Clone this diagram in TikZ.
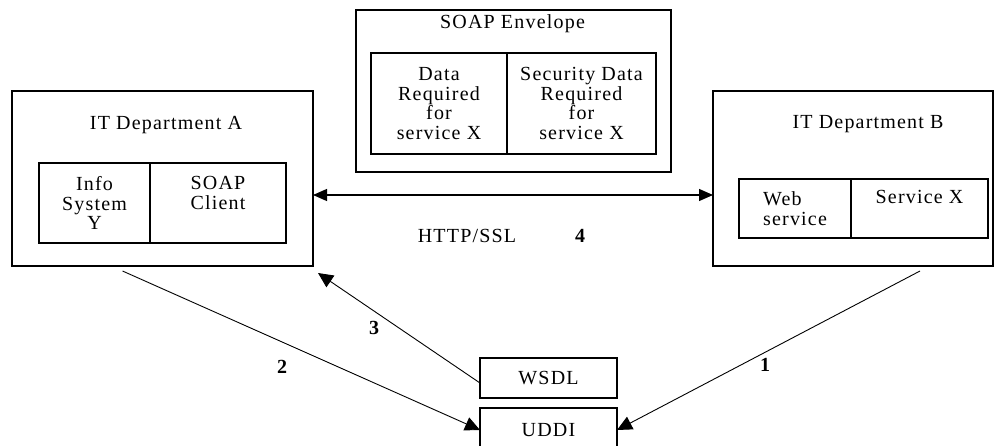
\documentclass[tikz,border=0pt]{standalone}
\usepackage{fontspec}
\setmainfont{Liberation Serif}[LetterSpace=6.0]
\usetikzlibrary{arrows.meta,positioning}

\begin{document}
\begin{tikzpicture}[
  x=1pt,y=-1pt,
  font=\fontsize{20}{19.5}\selectfont,
  every node/.style={align=center,inner sep=0pt,outer sep=0pt},
  dept/.style={draw,line width=1.4pt,minimum width=#1,minimum height=175pt},
  env/.style={draw,line width=1.4pt,minimum width=315pt,minimum height=162pt},
  cell/.style={draw,line width=1.3pt,minimum width=#1},
  reg/.style={draw,line width=1.3pt,minimum width=137pt,minimum height=40pt},
  num/.style={font=\fontsize{20}{20}\selectfont\bfseries},
  arr/.style={-{Triangle[length=15pt,width=14pt]},line width=0.9pt},
  arrs/.style={{Triangle[length=14pt,width=12pt]}-{Triangle[length=14pt,width=12pt]},line width=1.2pt}
]
\useasboundingbox (0,0) rectangle (1003,446);
\fill[white] (0,0) rectangle (1003,446);
\clip (0,0) rectangle (1003,446);

% IT Department A
\node[dept=301] (deptA) at (162.5,178.5) {};
\node (titleA) at (166,125) {IT Department A};
\node[cell=111,minimum height=80pt] (info) at (94.5,203) {Info\\System\\Y};
\node[cell=136,minimum height=80pt,right=0pt of info] (client) {};
\node (clientTxt) at (218,193) {SOAP\\Client};

% SOAP envelope
\node[env] (env) at (513.5,91) {};
\node (envTitle) at (512.5,24) {SOAP Envelope};
\node[cell=136,minimum height=101pt] (data) at (439,103.5) {Data\\Required\\for\\service X};
\node[cell=149,minimum height=101pt,right=0pt of data] (secdata) {Security Data\\Required\\for\\service X};

% IT Department B
\node[dept=280] (deptB) at (853,178.5) {};
\node (titleB) at (868,124) {IT Department B};
\node[cell=112,minimum height=59pt,align=left] (websvc) at (795,208.5) {Web\\service};
\node[cell=137,minimum height=59pt,right=0pt of websvc] (svcX) {};
\node (svcXTxt) at (919.5,197) {Service X};

% registry
\node[reg] (wsdl) at (548.5,378) {WSDL};
\node[reg,minimum height=44pt] (uddi) at (548.5,430) {UDDI};

% connectors
\draw[arrs] ([yshift=-16.5pt]deptA.east) -- ([yshift=-16.5pt]deptB.west);
\node (http) at (467,236) {HTTP/SSL};
\node[num] (n4) at (580,236) {4};

\draw[arr] ([xshift=67pt,yshift=-5pt]deptB.south) -- (uddi.east);
\node[num] (n1) at (765,365) {1};

\draw[arr] ([xshift=-40pt,yshift=-5pt]deptA.south) -- (uddi.west);
\node[num] (n2) at (282,367) {2};

\draw[arr] ([yshift=-5pt]wsdl.west) -- ([xshift=5pt,yshift=-7pt]deptA.south east);
\node[num] (n3) at (374,328) {3};
\end{tikzpicture}
\end{document}
